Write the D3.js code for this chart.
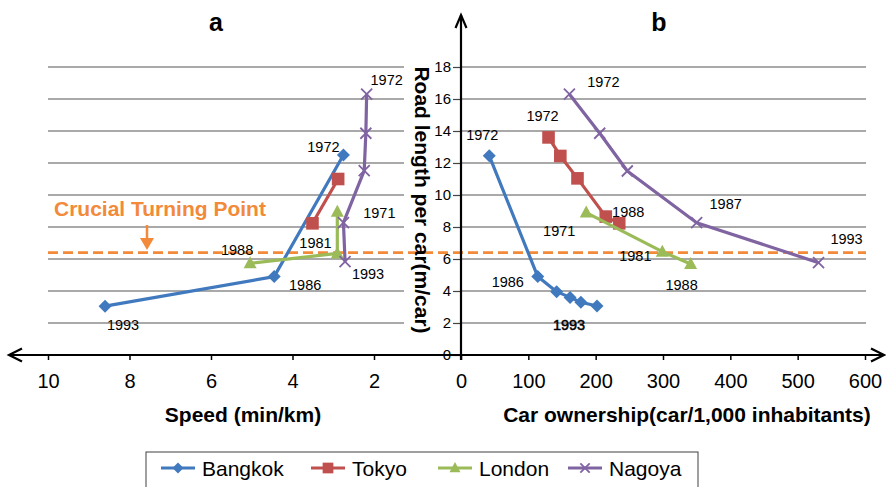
<!DOCTYPE html>
<html>
<head>
<meta charset="utf-8">
<script src="https://cdn.jsdelivr.net/npm/d3@7"></script>
<style>
  html, body { margin: 0; padding: 0; background: #fff; }
  svg { display: block; font-family: "Liberation Sans", Arial, Helvetica, sans-serif; }
</style>
</head>
<body>
<svg id="chart" width="886" height="487"></svg>
<script>
// ---------- data ----------
const cities = ["Bangkok", "Tokyo", "London", "Nagoya"];

// Panel a: [speed (min/km), road length per car (m/car)]
const aBangkok = [[2.75, 12.5], [4.45, 4.9], [8.6, 3.05]];
const aTokyo   = [[2.88, 11.0], [3.51, 8.23]];
const aLondon  = [[2.9, 8.95], [2.9, 6.35], [5.04, 5.73]];
const aNagoya  = [[2.18, 16.3], [2.2, 13.86], [2.24, 11.52], [2.75, 8.27], [2.71, 5.83]];

// Panel b: [car ownership (car/1,000 inhabitants), road length per car (m/car)]
const bBangkok = [[42, 12.45], [114, 4.9], [142, 3.96], [162, 3.6], [178, 3.3], [202, 3.06]];
const bTokyo   = [[130, 13.6], [147.5, 12.44], [173, 11.04], [215, 8.65], [235, 8.23]];
const bLondon  = [[186, 8.9], [299, 6.46], [341, 5.69]];
const bNagoya  = [[161, 16.3], [206, 13.86], [247, 11.5], [350, 8.27], [531, 5.77]];

// Year labels: [city, point index, text]
const aYears = [
  ["Bangkok", 0, "1972"], ["Bangkok", 1, "1986"], ["Bangkok", 2, "1993"],
  ["Tokyo", 1, "1981"],
  ["London", 0, "1971"], ["London", 2, "1988"],
  ["Nagoya", 0, "1972"], ["Nagoya", 4, "1993"]
];
const bYears = [
  ["Bangkok", 0, "1972"], ["Bangkok", 1, "1986"], ["Bangkok", 5, "1993"],
  ["Tokyo", 0, "1972"], ["Tokyo", 4, "1988"],
  ["London", 0, "1971"], ["London", 1, "1981"], ["London", 2, "1988"],
  ["Nagoya", 0, "1972"], ["Nagoya", 3, "1987"], ["Nagoya", 4, "1993"]
];

const turningPoint = 6.4;
const roadTicks = [0, 2, 4, 6, 8, 10, 12, 14, 16, 18];
const speedTicks = [10, 8, 6, 4, 2];
const ownershipTicks = [0, 100, 200, 300, 400, 500, 600];

// ---------- styles ----------
const cityColor = { Bangkok: "#4179BE", Tokyo: "#C0504D", London: "#9BBB59", Nagoya: "#8064A2" };
const cityMarker = { Bangkok: "diamond", Tokyo: "square", London: "triangle", Nagoya: "cross" };
const orange = "#F28A3A";
const gridColor = "#8c8c8c";
// label offsets (px) from their point, same order as the year lists
const aYearOffsets = [[-20, -8], [31, 8], [18, 19], [3, 20], [42, 1], [-13, -13], [20, -14], [23, 12]];
const bYearOffsets = [[-7, -21], [-30, 5], [-28, 19], [-6, -21], [9, -11], [-27, 18], [-27, 4], [-9, 21], [34, -12], [29, -19], [28, -24]];

const aSeries = { Bangkok: aBangkok, Tokyo: aTokyo, London: aLondon, Nagoya: aNagoya };
const bSeries = { Bangkok: bBangkok, Tokyo: bTokyo, London: bLondon, Nagoya: bNagoya };

// ---------- scales ----------
const y  = d3.scaleLinear().domain([0, 18]).range([355, 67]);
const xa = d3.scaleLinear().domain([0, 10]).range([455.5, 48]);
const xb = d3.scaleLinear().domain([0, 600]).range([461, 865]);

const svg = d3.select("#chart");

// ---------- gridlines ----------
const grid = svg.append("g");
[[48, 404], [461, 866]].forEach(([x1, x2]) => {
  grid.append("g").selectAll("line")
    .data(roadTicks.filter(v => v > 0))
    .join("line")
    .attr("x1", x1).attr("x2", x2)
    .attr("y1", d => y(d)).attr("y2", d => y(d))
    .attr("stroke", gridColor).attr("stroke-width", 1.3);
});

// ---------- turning point ----------
svg.append("line")
  .attr("x1", 48).attr("x2", 866)
  .attr("y1", y(turningPoint)).attr("y2", y(turningPoint))
  .attr("stroke", orange).attr("stroke-width", 2.6)
  .attr("stroke-dasharray", "10,5");

svg.append("text")
  .attr("x", 54).attr("y", 216)
  .attr("font-size", 21).attr("font-weight", "bold")
  .attr("fill", orange)
  .text("Crucial Turning Point");

svg.append("line")
  .attr("x1", 147).attr("x2", 147).attr("y1", 225).attr("y2", 240)
  .attr("stroke", orange).attr("stroke-width", 2.5);
svg.append("path")
  .attr("d", "M140,238L154,238L147,250Z")
  .attr("fill", orange);

// ---------- axes ----------
const axisColor = "#000";
const xAxisA = svg.append("g").attr("transform", `translate(0,${y(0)})`)
  .call(d3.axisBottom(xa).tickValues(speedTicks).tickSize(5).tickPadding(14).tickFormat(d3.format("d")));
const xAxisB = svg.append("g").attr("transform", `translate(0,${y(0)})`)
  .call(d3.axisBottom(xb).tickValues(ownershipTicks).tickSize(5).tickPadding(14).tickFormat(d3.format("d")));
const yAxis = svg.append("g").attr("transform", `translate(${xb(0)},0)`)
  .call(d3.axisLeft(y).tickValues(roadTicks).tickSize(8).tickPadding(2).tickFormat(d3.format("d")));

[xAxisA, xAxisB].forEach(g => {
  g.select(".domain").remove();
  g.selectAll(".tick line").attr("stroke", axisColor).attr("stroke-width", 1.5);
  g.selectAll(".tick text").attr("font-size", 20).attr("fill", "#000")
    .attr("font-family", "\"Liberation Sans\", Arial, sans-serif");
});
yAxis.select(".domain").remove();
yAxis.selectAll(".tick line").attr("stroke", "#444").attr("stroke-width", 1.2);
yAxis.selectAll(".tick text").attr("font-size", 15).attr("fill", "#000")
  .attr("font-family", "\"Liberation Sans\", Arial, sans-serif");

// axis lines with open arrowheads
const axisG = svg.append("g").attr("stroke", axisColor).attr("fill", "none").attr("stroke-width", 2.2);
axisG.append("line").attr("x1", 9).attr("x2", 884).attr("y1", y(0)).attr("y2", y(0));
axisG.append("path").attr("d", `M22,${y(0) - 6.5}L9,${y(0)}L22,${y(0) + 6.5}`);
axisG.append("path").attr("d", `M871,${y(0) - 6.5}L884,${y(0)}L871,${y(0) + 6.5}`);
axisG.append("line").attr("x1", xb(0)).attr("x2", xb(0)).attr("y1", 15).attr("y2", 360);
axisG.append("path").attr("d", `M${xb(0) - 5.5},28L${xb(0)},15L${xb(0) + 5.5},28`);

// ---------- titles ----------
svg.append("text").attr("x", 216).attr("y", 30.5).attr("text-anchor", "middle")
  .attr("font-size", 25).attr("font-weight", "bold").text("a");
svg.append("text").attr("x", 659).attr("y", 30.5).attr("text-anchor", "middle")
  .attr("font-size", 25).attr("font-weight", "bold").text("b");

svg.append("text").attr("x", 243).attr("y", 421.5).attr("text-anchor", "middle")
  .attr("font-size", 21).attr("font-weight", "bold").text("Speed (min/km)");
svg.append("text").attr("x", 687).attr("y", 421.5).attr("text-anchor", "middle")
  .attr("font-size", 21).attr("font-weight", "bold").text("Car ownership(car/1,000 inhabitants)");
svg.append("text")
  .attr("transform", "translate(415,200) rotate(90)")
  .attr("text-anchor", "middle")
  .attr("font-size", 21).attr("font-weight", "bold")
  .text("Road length per car(m/car)");

// ---------- markers ----------
function drawMarker(g, type, color, s) {
  s = s || 1;
  if (type === "diamond") {
    g.append("path").attr("d", `M0,${-6.5 * s}L${6.5 * s},0L0,${6.5 * s}L${-6.5 * s},0Z`).attr("fill", color);
  } else if (type === "square") {
    g.append("rect").attr("x", -6.3 * s).attr("y", -6.3 * s).attr("width", 12.6 * s).attr("height", 12.6 * s).attr("fill", color);
  } else if (type === "triangle") {
    g.append("path").attr("d", `M0,${-7 * s}L${6.5 * s},${5 * s}L${-6.5 * s},${5 * s}Z`).attr("fill", color);
  } else {
    g.append("path").attr("d", `M${-5.5 * s},${-5.5 * s}L${5.5 * s},${5.5 * s}M${-5.5 * s},${5.5 * s}L${5.5 * s},${-5.5 * s}`)
      .attr("stroke", color).attr("stroke-width", 1.8).attr("fill", "none");
  }
}

// ---------- series ----------
function drawPanel(series, xScale, years, offsets, boldLast) {
  const g = svg.append("g");
  cities.forEach(city => {
    const pts = series[city];
    const color = cityColor[city];
    const line = d3.line().x(d => xScale(d[0])).y(d => y(d[1]));
    g.append("path").datum(pts).attr("d", line)
      .attr("fill", "none").attr("stroke", color).attr("stroke-width", 3.2)
      .attr("stroke-linejoin", "round");
    pts.forEach(p => {
      const m = g.append("g").attr("transform", `translate(${xScale(p[0])},${y(p[1])})`);
      drawMarker(m, cityMarker[city], color);
    });
  });
  years.forEach(([city, idx, txt], i) => {
    const p = series[city][idx];
    const [dx, dy] = offsets[i];
    const t = g.append("text")
      .attr("x", xScale(p[0]) + dx).attr("y", y(p[1]) + dy + 5)
      .attr("text-anchor", "middle").attr("font-size", 14.5).attr("fill", "#000")
      .text(txt);
    if (boldLast && city === "Bangkok" && idx === series[city].length - 1) {
      t.attr("stroke", "#000").attr("stroke-width", 0.5);
    }
  });
}
drawPanel(aSeries, xa, aYears, aYearOffsets, false);
drawPanel(bSeries, xb, bYears, bYearOffsets, true);

// ---------- legend ----------
const legend = svg.append("g");
legend.append("rect").attr("x", 146).attr("y", 452).attr("width", 552).attr("height", 60)
  .attr("fill", "#fff").attr("stroke", "#404040").attr("stroke-width", 1);
const legendX = [161, 311, 438, 568];
cities.forEach((city, i) => {
  const x0 = legendX[i];
  const item = legend.append("g").attr("transform", `translate(${x0},468)`);
  item.append("line").attr("x1", 0).attr("x2", 34).attr("y1", 0).attr("y2", 0)
    .attr("stroke", cityColor[city]).attr("stroke-width", 3.2);
  const m = item.append("g").attr("transform", "translate(17,0)");
  drawMarker(m, cityMarker[city], cityColor[city], 0.85);
  item.append("text").attr("x", 41).attr("y", 7.5).attr("font-size", 21).attr("fill", "#000").text(city);
});
</script>
</body>
</html>
